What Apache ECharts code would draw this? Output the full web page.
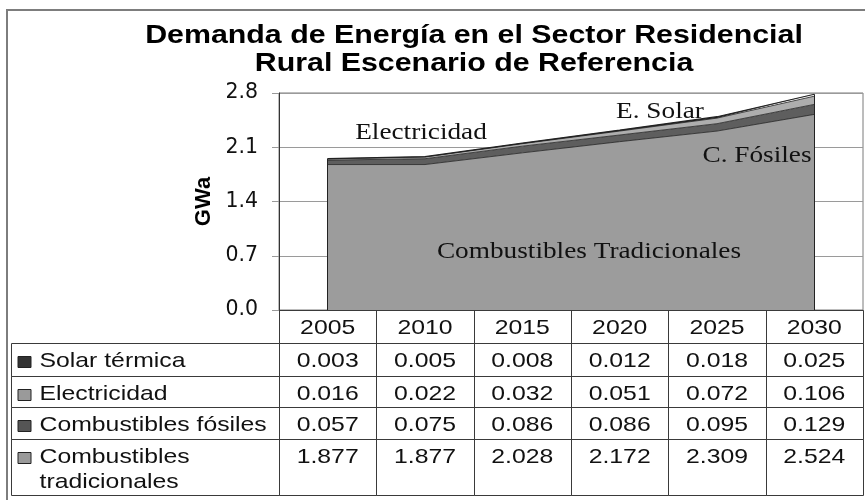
<!DOCTYPE html>
<html><head><meta charset="utf-8">
<script src="https://cdn.jsdelivr.net/npm/echarts@6/dist/echarts.min.js"></script>
<style>html,body{margin:0;padding:0;background:#fff}#c{width:865px;height:500px}</style>
</head><body><div id="c"></div>
<script>
// ---- data ----
const years = ['2005', '2010', '2015', '2020', '2025', '2030'];
const solarTermica = [0.003, 0.005, 0.008, 0.012, 0.018, 0.025];
const electricidad = [0.016, 0.022, 0.032, 0.051, 0.072, 0.106];
const combFosiles = [0.057, 0.075, 0.086, 0.086, 0.095, 0.129];
const combTradicionales = [1.877, 1.877, 2.028, 2.172, 2.309, 2.524];
const rowNames = ['Solar térmica', 'Electricidad', 'Combustibles fósiles', 'Combustibles\ntradicionales'];
const yMin = 0, yMax = 2.8, yInterval = 0.7;
const titleLines = ['Demanda de Energía en el Sector Residencial', 'Rural Escenario de Referencia'];
const yName = 'GWa';

// ---- styling / layout ----
const areaColors = ['#9c9c9c', '#5e5e5e', '#aeaeae', '#1c1c1c'];
const swatchColors = ['#333333', '#9a9a9a', '#555555', '#9a9a9a'];
const SX = 1.18;             // horizontal stretch of the reference text
const LABEL_LEFT = 11;
const rowEdges = [0, 33, 66, 97, 129, 185];   // table rows (px units of table y axis)
const sans = '"Liberation Sans", Arial, sans-serif';
const serif = '"Liberation Serif", "Times New Roman", serif';

const tableRows = [solarTermica, electricidad, combFosiles, combTradicionales];
const totals = years.map((_, i) => solarTermica[i] + electricidad[i] + combFosiles[i] + combTradicionales[i]);

// table cells
const cells = [];
years.forEach((y, c) => cells.push({ kind: 'value', col: c, row: 0, text: y }));
tableRows.forEach((vals, r) => {
  cells.push({ kind: 'label', col: 0, row: r + 1, text: rowNames[r], swatch: swatchColors[r] });
  vals.forEach((v, c) => cells.push({ kind: 'value', col: c, row: r + 1, text: v.toFixed(3) }));
});

function crisp(v) { return Math.round(v) + 0.5; }

function txt(x, y, text, align) {
  return {
    type: 'text', x: x, y: y, scaleX: SX,
    style: {
      text: text, x: 0, y: 0, font: '21px ' + sans, fill: '#111',
      align: align, verticalAlign: 'middle', textAlign: align, textVerticalAlign: 'middle'
    }
  };
}

function renderCell(params, api) {
  const cell = cells[params.dataIndex];
  const cs = params.coordSys;
  const bw = api.size([1, 0])[0];
  const cx = api.coord([cell.col, 0])[0];
  const yTop = crisp(api.coord([0, rowEdges[cell.row]])[1]);
  const yBot = crisp(api.coord([0, rowEdges[cell.row + 1]])[1]);
  let x0, x1;
  if (cell.kind === 'label') { x0 = LABEL_LEFT; x1 = cs.x; }
  else { x0 = cx - bw / 2; x1 = cx + bw / 2; }
  x0 = crisp(x0); x1 = crisp(x1);
  const children = [{
    type: 'rect', shape: { x: x0, y: yTop, width: x1 - x0, height: yBot - yTop },
    style: { fill: 'none', stroke: '#3a3a3a', lineWidth: 1 }
  }];
  const lines = cell.text.split('\n');
  const ty = yTop + 18;
  if (cell.kind === 'label') {
    children.push({
      type: 'rect', shape: { x: x0 + 6.5, y: Math.round(ty - 6) + 0.5, width: 13, height: 11 },
      style: { fill: cell.swatch, stroke: '#222', lineWidth: 1 }
    });
    lines.forEach((t, i) => children.push(txt(x0 + 28, ty + i * 25, t, 'left')));
  } else {
    lines.forEach((t, i) => children.push(txt(cx, ty + i * 25, t, 'center')));
  }
  return { type: 'group', children: children };
}

const areaDefs = [
  { name: 'Combustibles tradicionales', data: combTradicionales },
  { name: 'Combustibles fósiles', data: combFosiles },
  { name: 'Electricidad', data: electricidad },
  { name: 'Solar térmica', data: solarTermica }
];

const series = areaDefs.map((d, i) => ({
  name: d.name, type: 'line', stack: 'total', data: d.data,
  xAxisIndex: 0, yAxisIndex: 0,
  symbol: 'none', smooth: false, silent: true,
  lineStyle: { color: '#222', width: i === 3 ? 1.2 : 0.8 },
  areaStyle: { color: areaColors[i], opacity: 1 },
  itemStyle: { color: areaColors[i] }
}));
series[0].markLine = {
  silent: true, symbol: 'none', label: { show: false },
  lineStyle: { color: '#222', width: 1, type: 'solid' },
  data: [
    [{ coord: [years[0], 0] }, { coord: [years[0], totals[0]] }],
    [{ coord: [years[years.length - 1], 0] }, { coord: [years[years.length - 1], totals[totals.length - 1]] }]
  ]
};
series.push({
  type: 'custom', xAxisIndex: 1, yAxisIndex: 1, silent: true, clip: false,
  renderItem: renderCell,
  data: cells.map(c => [c.col, rowEdges[c.row]])
});

function annot(x, y, text) {
  return {
    type: 'text', x: x, y: y, scaleX: 1.16, silent: true, z: 100, zlevel: 0,
    style: { text: text, x: 0, y: 0, font: '23.5px ' + serif, fill: '#111',
      align: 'center', verticalAlign: 'middle', textAlign: 'center', textVerticalAlign: 'middle' }
  };
}
function titleText(y, text) {
  return {
    type: 'text', x: 474, y: y, scaleX: 1.19, silent: true, z: 100,
    style: { text: text, x: 0, y: 0, font: 'bold 25.5px ' + sans, fill: '#000',
      align: 'center', verticalAlign: 'middle', textAlign: 'center', textVerticalAlign: 'middle' }
  };
}

const option = {
  animation: false,
  backgroundColor: '#fff',
  grid: [
    { left: 279, right: 2, top: 93, bottom: 190, show: true, borderColor: '#7a7a7a', borderWidth: 1, backgroundColor: 'transparent' },
    { left: 279, right: 2, top: 310, height: 185 }
  ],
  xAxis: [
    { type: 'category', gridIndex: 0, data: years, boundaryGap: true,
      axisLine: { show: true, lineStyle: { color: '#333', width: 1 } },
      axisTick: { show: false }, axisLabel: { show: false }, splitLine: { show: false } },
    { type: 'category', gridIndex: 1, data: years, boundaryGap: true, show: false }
  ],
  yAxis: [
    { type: 'value', gridIndex: 0, min: yMin, max: yMax, interval: yInterval,
      name: yName, nameLocation: 'middle', nameRotate: 90, nameGap: 38,
      nameTextStyle: { fontFamily: sans, fontWeight: 'bold', fontSize: 22, color: '#000' },
      axisLine: { show: true, lineStyle: { color: '#333', width: 1 } },
      axisTick: { show: true, length: 7, lineStyle: { color: '#999' } },
      axisLabel: { formatter: v => v.toFixed(1), fontFamily: '"DejaVu Sans", sans-serif', fontSize: 20.5, color: '#111', margin: 21 },
      splitLine: { show: true, lineStyle: { color: '#9a9a9a', width: 1 } } },
    { type: 'value', gridIndex: 1, min: 0, max: rowEdges[rowEdges.length - 1], inverse: true, show: false }
  ],
  graphic: {
    elements: [
      { type: 'rect', silent: true, z: 100, shape: { x: 7, y: 10, width: 900, height: 600 },
        style: { fill: 'none', stroke: '#7d7d7d', lineWidth: 2 } },
      titleText(36, titleLines[0]),
      titleText(64, titleLines[1]),
      annot(421, 133, 'Electricidad'),
      annot(660, 112, 'E. Solar'),
      annot(757, 156, 'C. Fósiles'),
      annot(589, 252, 'Combustibles Tradicionales')
    ]
  },
  series: series
};

const chart = echarts.init(document.getElementById('c'), null, { renderer: 'canvas' });
chart.setOption(option);
</script>
</body></html>
